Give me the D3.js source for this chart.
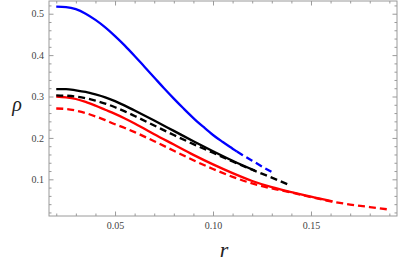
<!DOCTYPE html>
<html><head><meta charset="utf-8">
<script src="https://cdn.jsdelivr.net/npm/d3@7"></script>
<style>body{margin:0;background:#fff}svg{display:block}</style>
</head><body>
<svg id="c" width="399" height="264"></svg>
<script>
// ---- data ----
const blueSolidR = [0.020,0.025,0.030,0.035,0.040,0.045,0.050,0.055,0.060,0.065,0.070,0.075,0.080,0.085,0.090,0.095,0.100,0.105,0.110,0.1122];
const blueSolidRho = [0.517,0.516,0.511,0.500,0.485,0.467,0.446,0.423,0.398,0.372,0.346,0.320,0.295,0.271,0.248,0.227,0.207,0.190,0.174,0.167];
const blueDashR = [0.1122,0.115,0.120,0.125,0.1306];
const blueDashRho = [0.167,0.159,0.145,0.131,0.116];

const blackSolidR = [0.020,0.025,0.030,0.035,0.040,0.045,0.050,0.060,0.070,0.080,0.090,0.100,0.110,0.1214];
const blackSolidRho = [0.318,0.318,0.315,0.311,0.305,0.298,0.289,0.266,0.242,0.217,0.192,0.168,0.145,0.121];
const blackDashR = [0.020,0.025,0.030,0.035,0.040,0.045,0.050,0.055,0.060,0.070,0.080,0.090,0.100,0.110,0.120,0.130,0.139];
const blackDashRho = [0.303,0.302,0.300,0.296,0.290,0.283,0.274,0.264,0.253,0.230,0.207,0.185,0.164,0.143,0.123,0.104,0.086];

const redSolidR = [0.020,0.025,0.030,0.035,0.040,0.045,0.050,0.055,0.060,0.065,0.070,0.080,0.090,0.100,0.110,0.120,0.130,0.140,0.150,0.161];
const redSolidRho = [0.300,0.298,0.294,0.287,0.278,0.268,0.258,0.247,0.235,0.222,0.209,0.184,0.159,0.136,0.115,0.096,0.081,0.069,0.058,0.047];
const redDashR = [0.020,0.025,0.030,0.035,0.040,0.045,0.050,0.055,0.060,0.070,0.080,0.090,0.100,0.110,0.120,0.130,0.140,0.150,0.160,0.170,0.180,0.189];
const redDashRho = [0.271,0.270,0.266,0.260,0.252,0.243,0.233,0.224,0.214,0.192,0.169,0.146,0.125,0.106,0.090,0.078,0.068,0.057,0.047,0.039,0.033,0.0275];

const xMajor = [0.05,0.10,0.15];
const xMajorLabels = ["0.05","0.10","0.15"];
const xMinor = [0.02,0.03,0.04,0.06,0.07,0.08,0.09,0.11,0.12,0.13,0.14,0.16,0.17,0.18,0.19];
const yMajor = [0.1,0.2,0.3,0.4,0.5];
const yMajorLabels = ["0.1","0.2","0.3","0.4","0.5"];
const yMinor = [0.02,0.04,0.06,0.08,0.12,0.14,0.16,0.18,0.22,0.24,0.26,0.28,0.32,0.34,0.36,0.38,0.42,0.44,0.46,0.48,0.52];

// ---- layout ----
const L=49, R=397, T=1, B=216;
const x = d3.scaleLinear().domain([0.0163,0.1939]).range([L,R]);
const y = d3.scaleLinear().domain([0.0114,0.5307]).range([B,T]);
const svg = d3.select("#c");
const frameCol = "#9a9a9a";

svg.append("defs").append("clipPath").attr("id","clip").append("rect")
  .attr("x",L).attr("y",T).attr("width",R-L).attr("height",B-T);

const line = d3.line().x(d=>x(d[0])).y(d=>y(d[1])).curve(d3.curveMonotoneX);
const zip = (a,b)=>a.map((v,i)=>[v,b[i]]);
const series = [
  {r:redDashR, v:redDashRho, c:"#ff0000", dash:"7,4"},
  {r:redSolidR, v:redSolidRho, c:"#ff0000", dash:null},
  {r:blackDashR, v:blackDashRho, c:"#000000", dash:"7,4"},
  {r:blackSolidR, v:blackSolidRho, c:"#000000", dash:null},
  {r:blueDashR, v:blueDashRho, c:"#0000ff", dash:"7,4"},
  {r:blueSolidR, v:blueSolidRho, c:"#0000ff", dash:null},
];
const plot = svg.append("g").attr("clip-path","url(#clip)");
series.forEach(s=>{
  plot.append("path").attr("d",line(zip(s.r,s.v)))
    .attr("fill","none").attr("stroke",s.c).attr("stroke-width",2.3)
    .attr("stroke-dasharray",s.dash);
});

// frame
svg.append("rect").attr("x",L).attr("y",T).attr("width",R-L).attr("height",B-T)
  .attr("fill","none").attr("stroke",frameCol).attr("stroke-width",1);

function tickAxis(gen, scale, vals, len, transform){
  const a = gen(scale).tickValues(vals).tickSize(len).tickFormat("");
  const gg = svg.append("g").attr("transform",transform).call(a);
  gg.select(".domain").remove();
  gg.selectAll("line").attr("stroke",frameCol);
  return gg;
}
tickAxis(d3.axisTop, x, xMajor, 4.5, `translate(0,${B})`);
tickAxis(d3.axisTop, x, xMinor, 2.5, `translate(0,${B})`);
tickAxis(d3.axisBottom, x, xMajor, 4.5, `translate(0,${T})`);
tickAxis(d3.axisBottom, x, xMinor, 2.5, `translate(0,${T})`);
tickAxis(d3.axisRight, y, yMajor, 4.5, `translate(${L},0)`);
tickAxis(d3.axisRight, y, yMinor, 2.5, `translate(${L},0)`);
tickAxis(d3.axisLeft, y, yMajor, 4.5, `translate(${R},0)`);
tickAxis(d3.axisLeft, y, yMinor, 2.5, `translate(${R},0)`);

const font = "'Liberation Serif','DejaVu Serif',serif";
const xl = d3.axisBottom(x).tickValues(xMajor).tickSize(0).tickPadding(0)
  .tickFormat((d,i)=>xMajorLabels[i]);
const xg = svg.append("g").attr("transform",`translate(0,${B+6})`).call(xl);
xg.select(".domain").remove();
xg.attr("font-family",font).selectAll("text").attr("font-family",font).attr("font-size",10).attr("fill","#444");

const yl = d3.axisLeft(y).tickValues(yMajor).tickSize(0).tickPadding(0)
  .tickFormat((d,i)=>yMajorLabels[i]);
const yg = svg.append("g").attr("transform",`translate(${L-5},0)`).call(yl);
yg.select(".domain").remove();
yg.attr("font-family",font).selectAll("text").attr("font-family",font).attr("font-size",10).attr("fill","#444");

svg.append("text").attr("x",224).attr("y",257).attr("text-anchor","middle")
  .attr("font-family",font).attr("font-style","italic").attr("font-size",22).attr("fill","#222").text("r");
svg.append("text").attr("x",17).attr("y",111).attr("text-anchor","middle")
  .attr("font-family",font).attr("font-style","italic").attr("font-size",20).attr("fill","#222").text("ρ");
</script>
</body></html>
